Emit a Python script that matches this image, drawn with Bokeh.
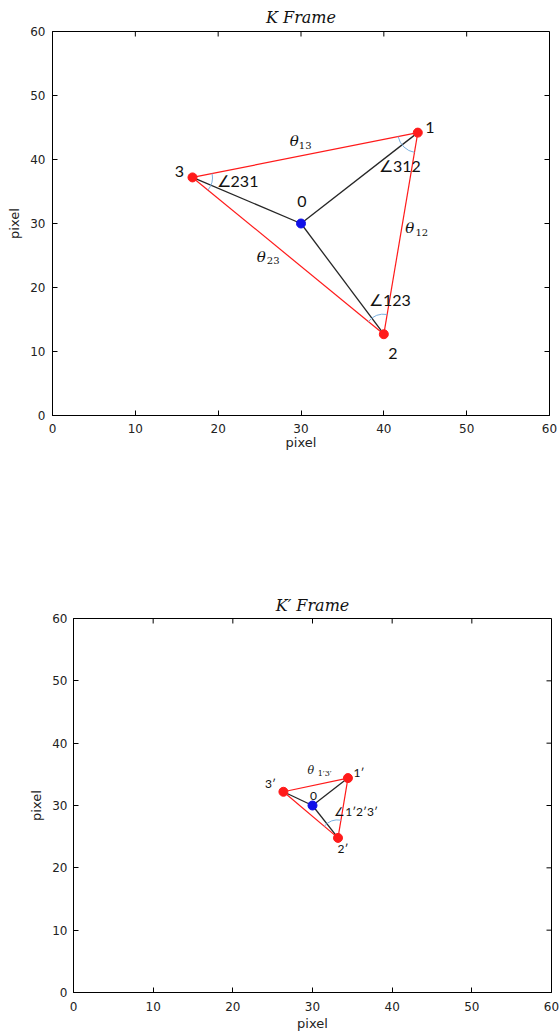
import math
from bokeh.plotting import figure
from bokeh.models import Range1d, FixedTicker, Title
from bokeh.embed import file_html
from bokeh.resources import INLINE
from bokeh.core.properties import value

# ---------------- data ----------------
frame_titles = ["K Frame", "K\u2032 Frame"]
axis_title = "pixel"
tick_values = [0, 10, 20, 30, 40, 50, 60]
axis_range = [0, 60]

# K frame
k_center_x = [30.0]
k_center_y = [30.0]
k_center_name = ["0"]
k_names = ["1", "2", "3"]
k_x = [44.1, 40.0, 16.9]
k_y = [44.2, 12.7, 37.2]
k_edges = [(0, 1), (1, 2), (0, 2)]          # pairs of vertex indices
k_edge_subs = ["12", "23", "13"]
k_angle_names = ["\u2220312", "\u2220123", "\u2220231"]   # at vertex 1, 2, 3

# K' frame
kp_center_x = [30.0]
kp_center_y = [30.0]
kp_center_name = ["0"]
kp_names = ["1\u2032", "2\u2032", "3\u2032"]
kp_x = [34.45, 33.2, 26.35]
kp_y = [34.4, 24.8, 32.2]
kp_edges = [(0, 1), (1, 2), (0, 2)]
kp_edge_labelled = [2]                       # only edge 1'-3' is labelled
kp_edge_subs = ["1\u20323\u2032"]
kp_angle_vertex = [1]
kp_angle_names = ["\u22201\u20322\u20323\u2032"]

# ---------------- style ----------------
RED = "#ff1a1a"
BLUE = "#1010e8"
ARC = "#7ab0e0"
LINE_DARK = "#262626"
TXT = "#111111"
LBL_FONT = value("Lato")
THETA_FONT = value("DejaVu Serif")
TICK_FONT = "DejaVu Sans"

PAGE_W = 559


def make_frame(title, height, left, right, top, bottom, xs_lab, ys_lab, ax_lab_x, ax_lab_y, title_standoff):
    p = figure(width=PAGE_W, height=height, title=None,
               x_range=Range1d(*axis_range), y_range=Range1d(*axis_range),
               output_backend="svg", toolbar_location=None,
               min_border_left=left, min_border_right=right,
               min_border_top=top, min_border_bottom=bottom,
               x_axis_label=axis_title, y_axis_label=axis_title)
    p.grid.visible = False
    p.outline_line_color = "black"
    p.outline_line_width = 1
    p.background_fill_color = "white"
    p.border_fill_color = "white"
    for ax in list(p.xaxis) + list(p.yaxis):
        ax.ticker = FixedTicker(ticks=tick_values)
        ax.major_tick_in = 5
        ax.major_tick_out = 0
        ax.minor_tick_line_color = None
        ax.axis_line_color = "black"
        ax.major_tick_line_color = "black"
        ax.major_label_text_font = TICK_FONT
        ax.major_label_text_font_size = "12px"
        ax.major_label_text_color = "#222222"
        ax.axis_label_text_font = TICK_FONT
        ax.axis_label_text_font_size = "13px"
        ax.axis_label_text_font_style = "normal"
        ax.axis_label_text_color = "#222222"
    p.xaxis.major_label_standoff = xs_lab
    p.yaxis.major_label_standoff = ys_lab
    p.xaxis.axis_label_standoff = ax_lab_x
    p.yaxis.axis_label_standoff = ax_lab_y
    # inward ticks on the top and right edges of the frame
    p.ray(x=tick_values, y=[axis_range[1]] * len(tick_values), length=5, length_units="screen",
          angle=-math.pi / 2, line_color="black", line_width=1)
    p.ray(x=[axis_range[1]] * len(tick_values), y=tick_values, length=5, length_units="screen",
          angle=math.pi, line_color="black", line_width=1)
    p.add_layout(Title(text=title, align="center", standoff=title_standoff,
                       text_font="DejaVu Serif", text_font_style="italic",
                       text_font_size="16px", text_color=TXT), "above")
    return p


def screen_angle(ax, ay, bx, by, sx, sy):
    return math.atan2((by - ay) * sy, (bx - ax) * sx)


def vertex_arc(i, xs, ys, sx, sy):
    others = [j for j in range(3) if j != i]
    a1 = screen_angle(xs[i], ys[i], xs[others[0]], ys[others[0]], sx, sy)
    a2 = screen_angle(xs[i], ys[i], xs[others[1]], ys[others[1]], sx, sy)
    d = (a2 - a1) % (2 * math.pi)
    if d > math.pi:
        a1, a2 = a2, a1
    return a1, a2


def draw_triangle(p, cx, cy, xs, ys, edges, sx, sy, arc_vertices, arc_r, msize):
    for i in range(3):
        p.line(x=[cx[0], xs[i]], y=[cy[0], ys[i]], line_color=LINE_DARK, line_width=1.3)
    for a, b in edges:
        p.line(x=[xs[a], xs[b]], y=[ys[a], ys[b]], line_color=RED, line_width=1.2)
    st, en, ax_, ay_ = [], [], [], []
    for v in arc_vertices:
        s, e = vertex_arc(v, xs, ys, sx, sy)
        st.append(s); en.append(e); ax_.append(xs[v]); ay_.append(ys[v])
    p.arc(x=ax_, y=ay_, radius=arc_r, radius_units="screen", start_angle=st, end_angle=en,
          direction="anticlock", line_color=ARC, line_width=1)
    p.scatter(x=xs, y=ys, size=msize, fill_color=RED, line_color=RED)
    p.scatter(x=cx, y=cy, size=msize, fill_color=BLUE, line_color=BLUE)


# ---------------- K frame ----------------
H1 = 590
L1, R1, T1 = 52, 10, 29
FH1 = 386
p1 = make_frame(frame_titles[0], H1, L1, R1, T1, H1 - T1 - FH1, 8, 7, -1, 5, 10)
sx1 = (PAGE_W - L1 - R1) / (axis_range[1] - axis_range[0])
sy1 = FH1 / (axis_range[1] - axis_range[0])
draw_triangle(p1, k_center_x, k_center_y, k_x, k_y, k_edges, sx1, sy1, [0, 1, 2], 20, 9)

p1.text(x=k_x, y=k_y, text=k_names, x_offset=[12, 9, -13], y_offset=[-5, 19, -6],
        text_align="center", text_baseline="middle", text_font=LBL_FONT,
        text_font_size="16px", text_color=TXT)
p1.text(x=k_center_x, y=k_center_y, text=k_center_name, x_offset=1, y_offset=-22,
        text_align="center", text_baseline="middle", text_font=LBL_FONT,
        text_font_size="16px", text_color=TXT)
p1.text(x=k_x, y=k_y, text=k_angle_names, x_offset=[-18, 6, 45], y_offset=[33, -35, 3],
        text_align="center", text_baseline="middle", text_font=LBL_FONT,
        text_font_size="16px", text_color=TXT)
mx1 = [(k_x[a] + k_x[b]) / 2 for a, b in k_edges]
my1 = [(k_y[a] + k_y[b]) / 2 for a, b in k_edges]
p1.text(x=mx1, y=my1, text=["\u03b8"] * 3, x_offset=[9, -27, -11], y_offset=[-5, 1, -14],
        text_align="center", text_baseline="middle", text_font=THETA_FONT,
        text_font_style="italic", text_font_size="15px", text_color=TXT)
p1.text(x=mx1, y=my1, text=k_edge_subs, x_offset=[21, -15, 0], y_offset=[-1, 5, -10],
        text_align="center", text_baseline="middle", text_font=THETA_FONT,
        text_font_size="10px", text_color=TXT)

# ---------------- K' frame ----------------
H2 = 444
L2, R2, T2, B2 = 73, 8, 27, 42
FH2 = H2 - T2 - B2
p2 = make_frame(frame_titles[1], H2, L2, R2, T2, B2, 9, 6, 2, 5, 7)
sx2 = (PAGE_W - L2 - R2) / (axis_range[1] - axis_range[0])
sy2 = FH2 / (axis_range[1] - axis_range[0])
draw_triangle(p2, kp_center_x, kp_center_y, kp_x, kp_y, kp_edges, sx2, sy2, kp_angle_vertex, 18, 9)

p2.text(x=kp_x, y=kp_y, text=kp_names, x_offset=[11, 5, -13], y_offset=[-6, 11, -8],
        text_align="center", text_baseline="middle", text_font=LBL_FONT,
        text_font_size="12px", text_color=TXT)
p2.text(x=kp_center_x, y=kp_center_y, text=kp_center_name, x_offset=1, y_offset=-10,
        text_align="center", text_baseline="middle", text_font=LBL_FONT,
        text_font_size="12px", text_color=TXT)
p2.text(x=[kp_x[v] for v in kp_angle_vertex], y=[kp_y[v] for v in kp_angle_vertex],
        text=kp_angle_names, x_offset=18, y_offset=-26,
        text_align="center", text_baseline="middle", text_font=LBL_FONT,
        text_font_size="12px", text_color=TXT)
mx2 = [(kp_x[kp_edges[e][0]] + kp_x[kp_edges[e][1]]) / 2 for e in kp_edge_labelled]
my2 = [(kp_y[kp_edges[e][0]] + kp_y[kp_edges[e][1]]) / 2 for e in kp_edge_labelled]
p2.text(x=mx2, y=my2, text=["\u03b8"], x_offset=-5, y_offset=-14,
        text_align="center", text_baseline="middle", text_font=THETA_FONT,
        text_font_style="italic", text_font_size="11px", text_color=TXT)
p2.text(x=mx2, y=my2, text=kp_edge_subs, x_offset=9, y_offset=-11,
        text_align="center", text_baseline="middle", text_font=THETA_FONT,
        text_font_size="8px", text_color=TXT)

open("out.html", "w").write(file_html([p1, p2], INLINE))
